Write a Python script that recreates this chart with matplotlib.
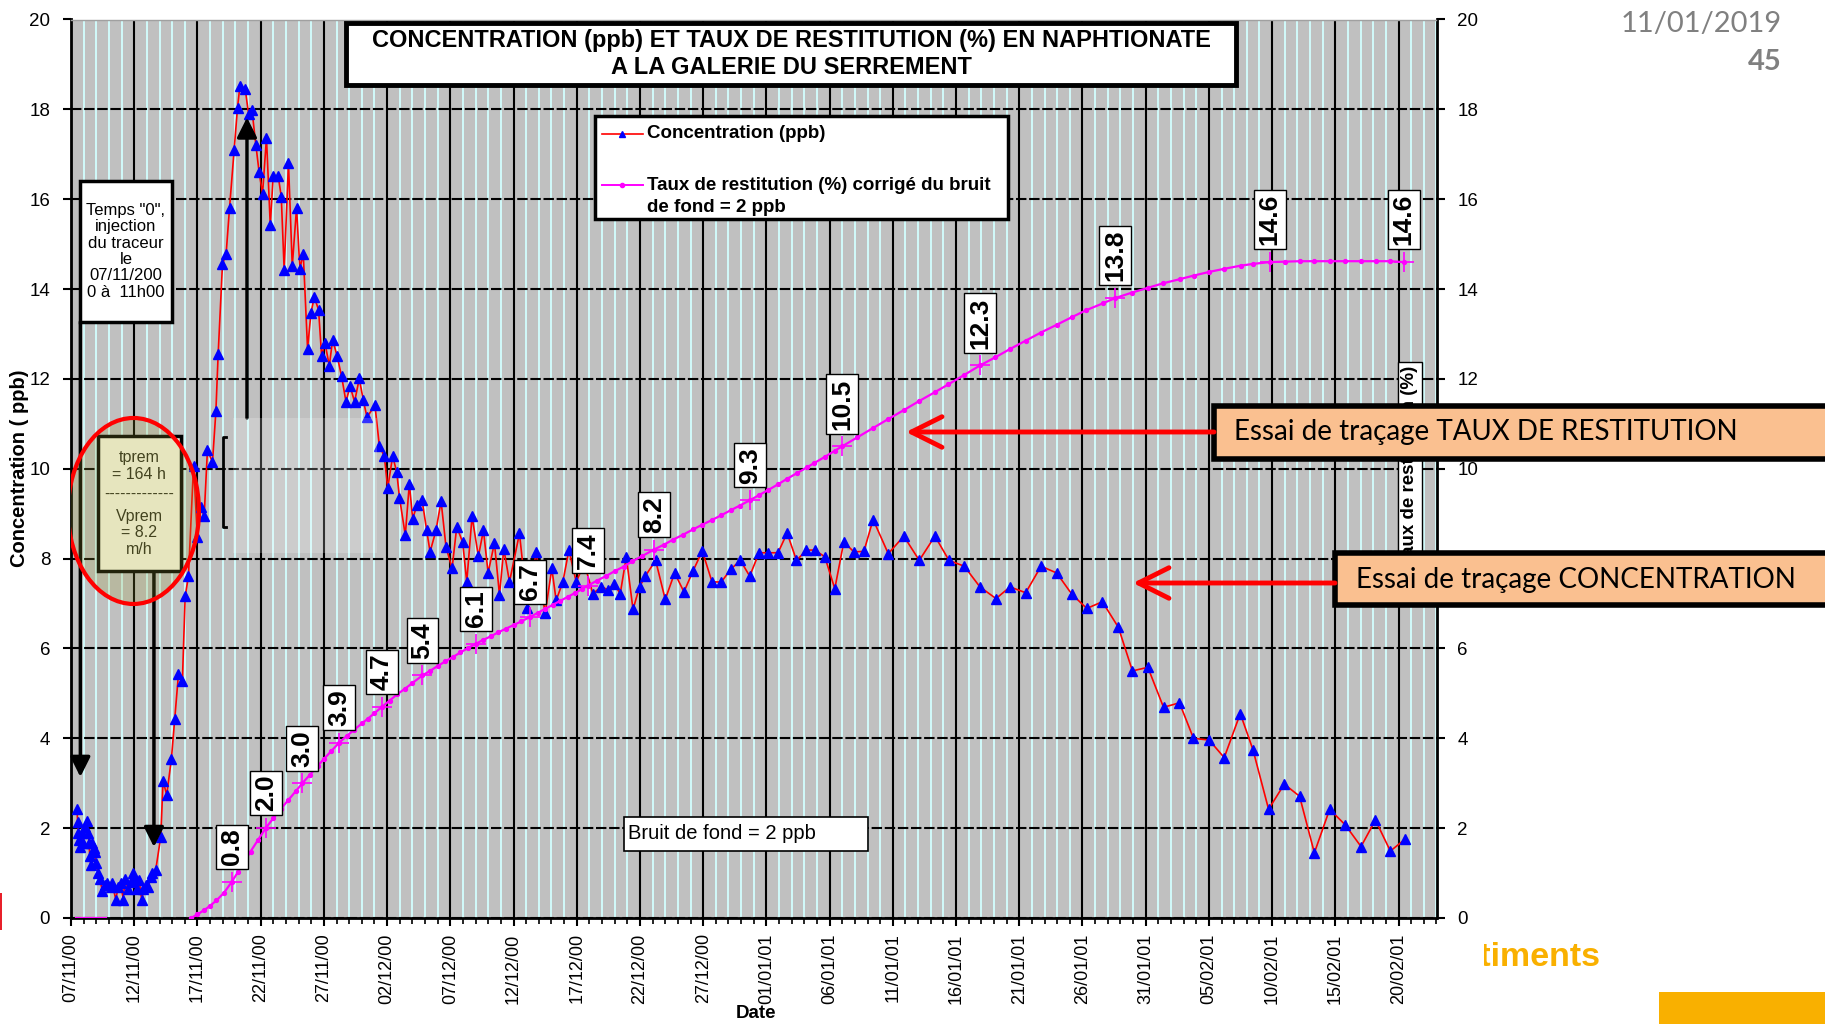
import numpy as np
import matplotlib.pyplot as plt
from matplotlib.patches import Rectangle, Ellipse, FancyArrowPatch
from matplotlib.lines import Line2D
from matplotlib.transforms import Affine2D

W, H = 1825, 1024

# days since injection (07/11/2000) and naphtionate concentration (ppb)
conc_day = [
    0.48, 0.52, 0.58, 0.63, 0.71, 0.85, 0.95, 1.11, 1.24, 1.37,
    1.43, 1.48, 1.56, 1.69, 1.82, 1.90, 1.95, 2.14, 2.30, 2.48,
    2.69, 2.88, 3.14, 3.27, 3.54, 3.74, 3.93, 4.12, 4.28, 4.54,
    4.72, 4.91, 5.07, 5.25, 5.38, 5.60, 5.73, 5.91, 6.10, 6.31,
    6.44, 6.70, 7.10, 7.28, 7.57, 7.94, 8.21, 8.50, 8.81, 9.03,
    9.29, 9.69, 10.00, 10.27, 10.53, 10.79, 11.19, 11.46, 11.64, 11.98,
    12.27, 12.54, 12.90, 13.17, 13.36, 13.78, 14.04, 14.31, 14.62, 14.88,
    15.15, 15.46, 15.76, 15.99, 16.39, 16.63, 16.86, 17.20, 17.50, 17.84,
    18.10, 18.37, 18.71, 18.98, 19.24, 19.58, 19.82, 20.09, 20.43, 20.69,
    21.04, 21.40, 21.75, 22.07, 22.43, 22.80, 23.12, 23.41, 24.04, 24.39,
    24.78, 25.05, 25.44, 25.76, 25.98, 26.44, 26.76, 27.02, 27.37, 27.77,
    28.13, 28.40, 28.87, 29.27, 29.66, 30.14, 30.51, 30.98, 31.30, 31.72,
    32.22, 32.62, 32.99, 33.49, 33.89, 34.23, 34.68, 35.47, 36.10, 36.79,
    37.50, 38.03, 38.37, 38.90, 39.38, 39.96, 40.60, 41.27, 41.94, 42.47,
    42.95, 43.44, 43.92, 44.45, 44.97, 45.42, 46.24, 47.00, 47.74, 48.48,
    49.19, 49.93, 50.70, 51.44, 52.17, 52.94, 53.68, 54.42, 55.13, 55.92,
    56.64, 57.38, 58.17, 58.83, 59.62, 60.41, 61.12, 61.92, 62.71, 63.44,
    64.64, 65.87, 67.09, 68.33, 69.44, 70.65, 71.89, 73.16, 74.27, 75.51,
    76.72, 77.96, 79.15, 80.34, 81.57, 82.84, 83.95, 85.17, 86.41, 87.67,
    88.78, 90.02, 91.21, 92.48, 93.48, 94.72, 95.96, 97.17, 98.34, 99.55,
    100.79, 102.03, 103.17, 104.35, 105.54]
conc_ppb = [
    2.42, 2.14, 1.90, 1.73, 1.59, 1.90, 1.67, 2.03, 2.16, 1.90,
    1.66, 1.38, 1.18, 1.67, 1.55, 1.47, 1.23, 1.01, 0.86, 0.59,
    0.73, 0.77, 0.68, 0.77, 0.41, 0.70, 0.77, 0.41, 0.86, 0.64,
    0.81, 1.01, 0.85, 0.64, 0.85, 0.39, 0.64, 0.73, 0.68, 0.92,
    1.01, 1.07, 1.81, 3.05, 2.74, 3.54, 4.44, 5.43, 5.28, 7.16,
    7.61, 10.06, 8.48, 9.15, 8.94, 10.41, 10.15, 11.28, 12.56, 14.55,
    14.79, 15.81, 17.09, 18.04, 18.52, 18.46, 17.90, 17.99, 17.21, 16.60,
    16.12, 17.37, 15.42, 16.51, 16.51, 16.06, 14.42, 16.81, 14.51, 15.81,
    14.45, 14.79, 12.67, 13.47, 13.82, 13.54, 12.52, 12.80, 12.29, 12.87,
    12.52, 12.06, 11.49, 11.84, 11.49, 12.01, 11.52, 11.15, 11.41, 10.51,
    10.28, 9.57, 10.28, 9.93, 9.36, 8.52, 9.67, 8.89, 9.19, 9.30,
    8.63, 8.15, 8.63, 9.28, 8.26, 7.78, 8.71, 8.36, 7.48, 8.94,
    8.05, 8.63, 7.68, 8.35, 7.19, 8.22, 7.48, 8.56, 6.90, 8.15,
    6.78, 7.78, 7.07, 7.48, 8.19, 7.48, 7.90, 7.22, 7.37, 7.31,
    7.44, 7.22, 8.04, 6.87, 7.37, 7.61, 7.96, 7.09, 7.68, 7.26,
    7.72, 8.17, 7.48, 7.48, 7.76, 7.96, 7.61, 8.13, 8.13, 8.13,
    8.57, 7.96, 8.19, 8.19, 8.04, 7.33, 8.37, 8.15, 8.16, 8.87,
    8.11, 8.50, 7.96, 8.50, 7.96, 7.83, 7.37, 7.11, 7.37, 7.24,
    7.83, 7.68, 7.21, 6.89, 7.04, 6.47, 5.50, 5.58, 4.69, 4.79,
    4.00, 3.96, 3.57, 4.55, 3.75, 2.42, 2.98, 2.71, 1.45, 2.42,
    2.07, 1.59, 2.18, 1.49, 1.76]

# cumulative recovery (%) corrected for 2 ppb background
rest_pre_day = [0.4, 1.2, 2.0, 2.8]
rest_pre_pct = [0.0, 0.0, 0.0, 0.0]
rest_day = [
    9.5, 10.0, 10.5, 11.0, 11.5, 12.1, 12.7, 13.2, 13.7, 14.2,
    14.8, 15.4, 16.0, 16.6, 17.2, 17.8, 18.3, 18.9, 19.5, 20.0,
    20.6, 21.2, 21.8, 22.4, 23.0, 23.5, 24.0, 24.6, 25.2, 25.8,
    26.4, 27.0, 27.8, 28.4, 29.0, 29.6, 30.2, 30.8, 31.4, 32.0,
    32.6, 33.2, 33.8, 34.4, 35.0, 35.6, 36.3, 36.9, 37.5, 38.1,
    38.7, 39.3, 39.9, 40.4, 40.9, 41.6, 42.3, 43.0, 43.7, 44.4,
    45.2, 46.1, 46.9, 47.6, 48.4, 49.2, 49.9, 50.7, 51.4, 52.2,
    52.9, 53.7, 54.4, 55.1, 55.9, 56.6, 57.4, 58.2, 58.8, 59.6,
    60.4, 61.0, 62.2, 63.4, 64.6, 65.9, 67.1, 68.3, 69.4, 70.6,
    71.9, 73.1, 74.3, 75.5, 76.7, 78.0, 79.2, 80.3, 81.6, 82.6,
    83.9, 85.2, 86.4, 87.7, 88.8, 90.0, 91.2, 92.5, 93.5, 94.8,
    96.0, 97.2, 98.3, 99.6, 100.8, 102.0, 103.2, 104.3, 105.4]
rest_pct = [
    0.00, 0.08, 0.17, 0.27, 0.39, 0.56, 0.80, 1.02, 1.25, 1.48,
    1.74, 2.00, 2.22, 2.43, 2.63, 2.83, 3.00, 3.19, 3.38, 3.54,
    3.72, 3.90, 4.05, 4.19, 4.33, 4.44, 4.56, 4.70, 4.84, 4.98,
    5.10, 5.23, 5.40, 5.50, 5.61, 5.71, 5.81, 5.91, 6.01, 6.10,
    6.19, 6.27, 6.36, 6.44, 6.52, 6.60, 6.70, 6.79, 6.88, 6.97,
    7.06, 7.15, 7.24, 7.32, 7.40, 7.51, 7.61, 7.72, 7.82, 7.94,
    8.06, 8.20, 8.31, 8.42, 8.53, 8.65, 8.75, 8.86, 8.96, 9.08,
    9.18, 9.30, 9.41, 9.52, 9.65, 9.77, 9.90, 10.03, 10.13, 10.26,
    10.40, 10.50, 10.70, 10.90, 11.10, 11.31, 11.51, 11.70, 11.88, 12.08,
    12.30, 12.48, 12.67, 12.85, 13.03, 13.21, 13.38, 13.53, 13.68, 13.80,
    13.92, 14.03, 14.13, 14.22, 14.30, 14.38, 14.45, 14.52, 14.56, 14.60,
    14.61, 14.62, 14.62, 14.62, 14.62, 14.62, 14.62, 14.62, 14.60]

# labelled recovery values
lab_day = [12.7, 15.4, 18.3, 21.2, 24.6, 27.8, 32.0, 36.3,
           40.9, 46.1, 53.7, 61.0, 71.9, 82.6, 94.8, 105.4]
lab_pct = [0.8, 2.0, 3.0, 3.9, 4.7, 5.4, 6.1, 6.7,
           7.4, 8.2, 9.3, 10.5, 12.3, 13.8, 14.6, 14.6]

tick_day = list(range(0, 106, 5))
tick_lab = ['07/11/00', '12/11/00', '17/11/00', '22/11/00', '27/11/00',
            '02/12/00', '07/12/00', '12/12/00', '17/12/00', '22/12/00',
            '27/12/00', '01/01/01', '06/01/01', '11/01/01', '16/01/01',
            '21/01/01', '26/01/01', '31/01/01', '05/02/01', '10/02/01',
            '15/02/01', '20/02/01']

plt.rcParams['font.family'] = ['Liberation Sans', 'DejaVu Sans']

fig = plt.figure(figsize=(W / 100, H / 100), dpi=100)
# pixel coordinates measured from the top-left corner
px = Affine2D().scale(1 / W, -1 / H).translate(0, 1) + fig.transFigure

ax = fig.add_axes([71 / W, 1 - 918 / H, (1436.5 - 71) / W, (918 - 19.5) / H])
ax.set_facecolor('#c0c0c0')
ax.set_xlim(0, 108)
ax.set_ylim(0, 20)
ax.set_axisbelow(True)

ax.set_xticks(tick_day)
ax.set_xticklabels(tick_lab, rotation=90)
ax.set_xticks(np.arange(0, 109, 1), minor=True)
ax.set_yticks(range(0, 21, 2))
ax.grid(which='minor', axis='x', color='#d2ffff', lw=1.3)
ax.grid(which='major', axis='x', color='black', lw=1.5)
ax.grid(which='major', axis='y', color='black', lw=1.5, linestyle=(0, (5, 1.3)))

ax.tick_params(axis='x', which='major', direction='out', length=6, width=1.5,
               pad=5, labelsize=13)
ax.tick_params(axis='x', which='minor', direction='out', length=4, width=1.2)
ax.tick_params(axis='y', which='major', direction='out', length=6, width=1.5,
               pad=9, labelsize=13.5, right=True, labelright=True)
for s in ['left', 'bottom', 'right']:
    ax.spines[s].set_linewidth(2)
ax.spines['top'].set_color('#a0a0a0')
ax.spines['top'].set_linewidth(1)

# series
ax.plot(conc_day, conc_ppb, color='red', lw=1.2, marker='^', ms=6.5,
        mfc='blue', mec='blue', zorder=3)
ax.plot(rest_pre_day, rest_pre_pct, color='#ff00ff', lw=1.6, zorder=3)
ax.plot(rest_day, rest_pct, color='#ff00ff', lw=1.6, marker='o', ms=2.8, zorder=3)
ax.plot(lab_day, lab_pct, ls='none', marker='+', ms=15, mew=1.2,
        color='#ff00ff', zorder=3)
for d, v in zip(lab_day, lab_pct):
    ax.annotate(f'{v:.1f}', xy=(d, v), xytext=(0, 12), textcoords='offset points',
                rotation=90, ha='center', va='bottom', fontsize=19,
                fontweight='bold',
                bbox=dict(boxstyle='square,pad=0.15', fc='white', ec='black', lw=1),
                zorder=6)

# injection time note
ax.add_patch(Rectangle((0.70, 13.27), 7.3, 3.13, fc='white', ec='black',
                       lw=2.5, zorder=6))
ax.text(4.35, 14.84, 'Temps "0",\ninjection\ndu traceur\nle\n07/11/200\n0 à  11h00',
        ha='center', va='center', fontsize=12, linespacing=1.12, zorder=7)
ax.annotate('', xy=(0.74, 3.14), xytext=(0.74, 13.27),
            arrowprops=dict(arrowstyle='-|>,head_length=0.6,head_width=0.3',
                            lw=2.5, color='black', shrinkA=0, shrinkB=0,
                            mutation_scale=20), zorder=5)

# first arrival time / velocity note
ax.add_patch(Rectangle((2.13, 7.72), 6.57, 3.01, fc='#fbfae6', ec='black',
                       lw=2.5, zorder=6))
ax.text(5.41, 10.06, 'tprem\n= 164 h', ha='center', va='center', fontsize=11.5,
        linespacing=1.1, color='#2a2a1a', zorder=7)
ax.text(5.41, 9.42, '-------------', ha='center', va='center', fontsize=11.5,
        color='#2a2a1a', zorder=7)
ax.text(5.41, 8.57, 'Vprem\n= 8.2\nm/h', ha='center', va='center', fontsize=11.5,
        linespacing=1.1, color='#2a2a1a', zorder=7)
ax.annotate('', xy=(6.56, 1.58), xytext=(6.56, 7.72),
            arrowprops=dict(arrowstyle='-|>,head_length=0.6,head_width=0.3',
                            lw=2.5, color='black', shrinkA=0, shrinkB=0,
                            mutation_scale=20), zorder=5)
ax.add_patch(Ellipse((4.94, 9.06), 10.36, 4.14, fc=(0.62, 0.62, 0.2, 0.22),
                     ec='red', lw=3, zorder=8))

# arrow to the peak and faded box
ax.annotate('', xy=(13.92, 17.82), xytext=(13.92, 11.13),
            arrowprops=dict(arrowstyle='-|>,head_length=0.6,head_width=0.3',
                            lw=2.5, color='black', shrinkA=0, shrinkB=0,
                            mutation_scale=20), zorder=5)
ax.add_patch(Rectangle((12.81, 8.12), 11.39, 3.01, fc='white', alpha=0.2,
                       ec='none', zorder=5.5))
ax.plot([12.25, 12.03, 12.03, 12.25], [10.71, 10.71, 8.70, 8.70],
        color='black', lw=2, zorder=5.5)

# background note
ax.add_patch(Rectangle((43.75, 1.49), 19.3, 0.76, fc='white', ec='black',
                       lw=1.2, zorder=6))
ax.text(44.07, 1.87, 'Bruit de fond = 2 ppb', ha='left', va='center',
        fontsize=14.5, zorder=7)

# right axis title drawn inside the plot
ax.text(105.9, 10.06, 'Taux de restitution (%)', rotation=90, ha='center',
        va='center', fontsize=13.5, fontweight='bold', zorder=7,
        bbox=dict(boxstyle='square,pad=0.2', fc='white', ec='black', lw=1))

# axis titles
fig.text(20, 468, 'Concentration ( ppb)', transform=px, rotation=90,
         ha='center', va='center', fontsize=14.5, fontweight='bold')
fig.text(756, 1014, 'Date', transform=px, ha='center', va='center',
         fontsize=13.5, fontweight='bold')

# chart title
fig.add_artist(Rectangle((346, 23), 890, 62, transform=px, fc='white',
                         ec='black', lw=3.5, zorder=2))
fig.text(791, 41, 'CONCENTRATION (ppb) ET TAUX DE RESTITUTION (%) EN NAPHTIONATE',
         transform=px, ha='center', va='center', fontsize=17,
         fontweight='bold', zorder=3)
fig.text(791, 67, 'A LA GALERIE DU SERREMENT', transform=px, ha='center',
         va='center', fontsize=17, fontweight='bold', zorder=3)

# legend
fig.add_artist(Rectangle((595, 116), 413, 103, transform=px, fc='white',
                         ec='black', lw=2.5, zorder=2))
fig.add_artist(Line2D([602, 643], [134, 134], transform=px, color='red', lw=1.2,
                      zorder=3))
fig.add_artist(Line2D([622], [134], transform=px, marker='^', ms=4.5,
                      color='blue', zorder=3))
fig.add_artist(Line2D([602, 643], [185, 185], transform=px, color='#ff00ff',
                      lw=1.4, zorder=3))
fig.add_artist(Line2D([622], [185], transform=px, marker='o', ms=3,
                      color='#ff00ff', zorder=3))
fig.text(647, 134, 'Concentration (ppb)', transform=px, ha='left', va='center',
         fontsize=13.5, fontweight='bold', zorder=3)
fig.text(647, 185, 'Taux de restitution (%) corrigé du bruit', transform=px,
         ha='left', va='center', fontsize=13.5, fontweight='bold', zorder=3)
fig.text(647, 207, 'de fond = 2 ppb', transform=px, ha='left', va='center',
         fontsize=13.5, fontweight='bold', zorder=3)

# callouts on the right
callout_font = ['Lato', 'DejaVu Sans']
fig.add_artist(Rectangle((1214, 406), 640, 53, transform=px, fc='#fac090',
                         ec='black', lw=4, zorder=2))
fig.text(1234, 432, 'Essai de traçage TAUX DE RESTITUTION', transform=px,
         ha='left', va='center', fontsize=20, family=callout_font, zorder=3)
fig.add_artist(Rectangle((1335, 553), 520, 52, transform=px, fc='#fac090',
                         ec='black', lw=4, zorder=2))
fig.text(1356, 580, 'Essai de traçage CONCENTRATION', transform=px,
         ha='left', va='center', fontsize=20, family=callout_font, zorder=3)
for x0, x1, y in [(1214, 906, 432), (1335, 1133, 583)]:
    fig.add_artist(FancyArrowPatch((x0, y), (x1, y), transform=px,
                                   arrowstyle='->,head_length=1.1,head_width=0.55',
                                   mutation_scale=20, lw=3.5, color='red',
                                   shrinkA=0, shrinkB=0, zorder=2))

# slide header and footer
fig.text(1782, 24, '11/01/2019', transform=px, ha='right', va='center',
         fontsize=21, color='#808080', family=callout_font)
fig.text(1782, 62, '45', transform=px, ha='right', va='center', fontsize=21,
         fontweight='bold', color='#808080', family=callout_font)
fig.text(1601, 957, 'Bâtiments', transform=px, ha='right', va='center',
         fontsize=24.5, fontweight='bold', color='#f9b000', zorder=3)
fig.add_artist(Rectangle((1412, 925), 72, 70, transform=px, fc='white',
                         ec='none', zorder=4))
fig.add_artist(Rectangle((1659, 992), 170, 40, transform=px, fc='#f9b000',
                         ec='none', zorder=4))
fig.add_artist(Rectangle((0, 893), 2, 37, transform=px, fc='#e8202a',
                         ec='none', zorder=4))

fig.savefig('out.png', dpi=100, facecolor='white')
